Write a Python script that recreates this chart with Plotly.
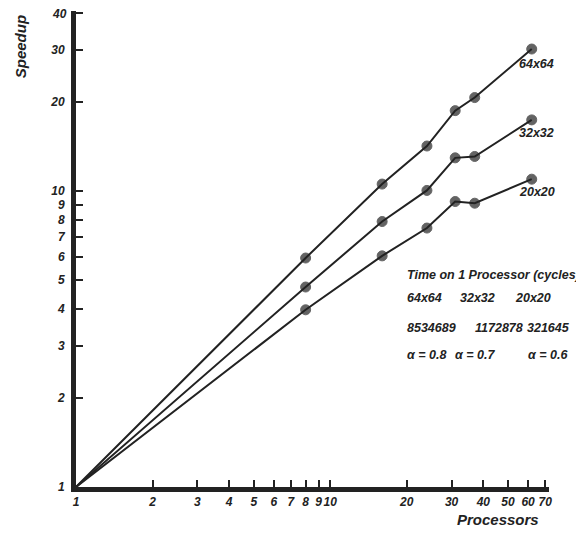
import numpy as np
import plotly.graph_objects as go

# ---- data ----
processors = [1, 8, 16, 24, 31, 37, 62]
speedup_64 = [1, 5.94, 10.56, 14.2, 18.7, 20.7, 30.2]
speedup_32 = [1, 4.74, 7.89, 10.05, 12.95, 13.09, 17.4]
speedup_20 = [1, 3.97, 6.04, 7.5, 9.22, 9.1, 10.97]
series_names = ["64x64", "32x32", "20x20"]
cycles = ["8534689", "1172878", "321645"]
alphas = ["α = 0.8", "α = 0.7", "α = 0.6"]
x_ticks = [1, 2, 3, 4, 5, 6, 7, 8, 9, 10, 20, 30, 40, 50, 60, 70]
y_ticks = [1, 2, 3, 4, 5, 6, 7, 8, 9, 10, 20, 30, 40]

INK = "#222222"
FONT = "Liberation Sans"

OFF = 8  # page body margin
Y_TOP = 40.6
W, H = 584 - OFF, 533 - OFF
L, R_EDGE = 75.6 - OFF, 548.8 - OFF
B_EDGE = 487.3 - OFF
T_EDGE = B_EDGE - 296 * np.log10(Y_TOP)


def px(xpix):
    return (xpix - OFF - L) / (R_EDGE - L)


def py(ypix):
    return (B_EDGE - (ypix - OFF)) / (B_EDGE - T_EDGE)


fig = go.Figure()
for ys in (speedup_64, speedup_32, speedup_20):
    fig.add_trace(go.Scatter(
        x=processors, y=ys, mode="lines+markers",
        line=dict(color=INK, width=2),
        marker=dict(color=INK, size=[0] + [10] * (len(ys) - 1),
                    line=dict(color=INK, width=1)),
        showlegend=False, cliponaxis=False,
    ))

afont = dict(family=FONT, size=12.5, color=INK, weight="bold", style="italic")
tickfont = dict(family=FONT, size=12, color=INK, weight="bold", style="italic")
annotations = []
for name, ys, ysh in zip(series_names, (speedup_64, speedup_32, speedup_20), (-15, -13, -13)):
    annotations.append(dict(
        x=np.log10(processors[-1]), y=np.log10(ys[-1]), xref="x", yref="y",
        text=name, showarrow=False, xanchor="left", yanchor="middle",
        xshift=-15, yshift=ysh, font=afont,
    ))

# top y tick label (the axis drops the label at its very end)
top_tick = y_ticks[-1]
annotations.append(dict(x=0, y=np.log10(top_tick), xref="paper", yref="y",
                        text=str(top_tick), showarrow=False, xanchor="right",
                        yanchor="middle", xshift=-7, yshift=-1, font=tickfont))

annotations.append(dict(x=px(405), y=py(275), xref="paper", yref="paper",
                        text="Time on 1 Processor (cycles)", showarrow=False,
                        xanchor="left", yanchor="middle", font=afont))
row_cols = [
    (298.3, series_names, [405, 458, 513]),
    (328.3, cycles, [405, 473, 525]),
    (355.7, alphas, [405, 453, 526]),
]
for ypix, texts, xs in row_cols:
    for t, xp in zip(texts, xs):
        annotations.append(dict(x=px(xp), y=py(ypix), xref="paper", yref="paper",
                                text=t, showarrow=False, xanchor="left",
                                yanchor="middle", font=afont))

tfont = dict(family=FONT, size=15, color=INK, weight="bold", style="italic")
annotations.append(dict(x=px(20), y=py(47), xref="paper", yref="paper",
                        text="Speedup", textangle=-90, showarrow=False,
                        xanchor="center", yanchor="middle", font=tfont))
annotations.append(dict(x=px(498), y=py(520), xref="paper", yref="paper",
                        text="Processors", showarrow=False,
                        xanchor="center", yanchor="middle", font=tfont))

fig.update_layout(
    width=W, height=H,
    margin=dict(l=L, r=W - R_EDGE, t=T_EDGE, b=H - B_EDGE, pad=0, autoexpand=False),
    paper_bgcolor="white", plot_bgcolor="white",
    annotations=annotations,
    xaxis=dict(type="log", range=[0, np.log10(72.5)], tickvals=x_ticks,
               ticktext=[str(v) for v in x_ticks], tickangle=0, automargin=False,
               showline=True, linecolor=INK, linewidth=5,
               ticks="inside", ticklen=7, tickwidth=1.5, tickcolor=INK,
               showgrid=False, zeroline=False, tickfont=tickfont),
    yaxis=dict(type="log", range=[0, np.log10(Y_TOP)], tickvals=y_ticks,
               ticktext=[str(v) for v in y_ticks[:-1]] + [""], automargin=False,
               ticklabelstandoff=4,
               showline=True, linecolor=INK, linewidth=5,
               ticks="inside", ticklen=7, tickwidth=1.5, tickcolor=INK,
               showgrid=False, zeroline=False, tickfont=tickfont),
)

fig.write_html("out.html")
